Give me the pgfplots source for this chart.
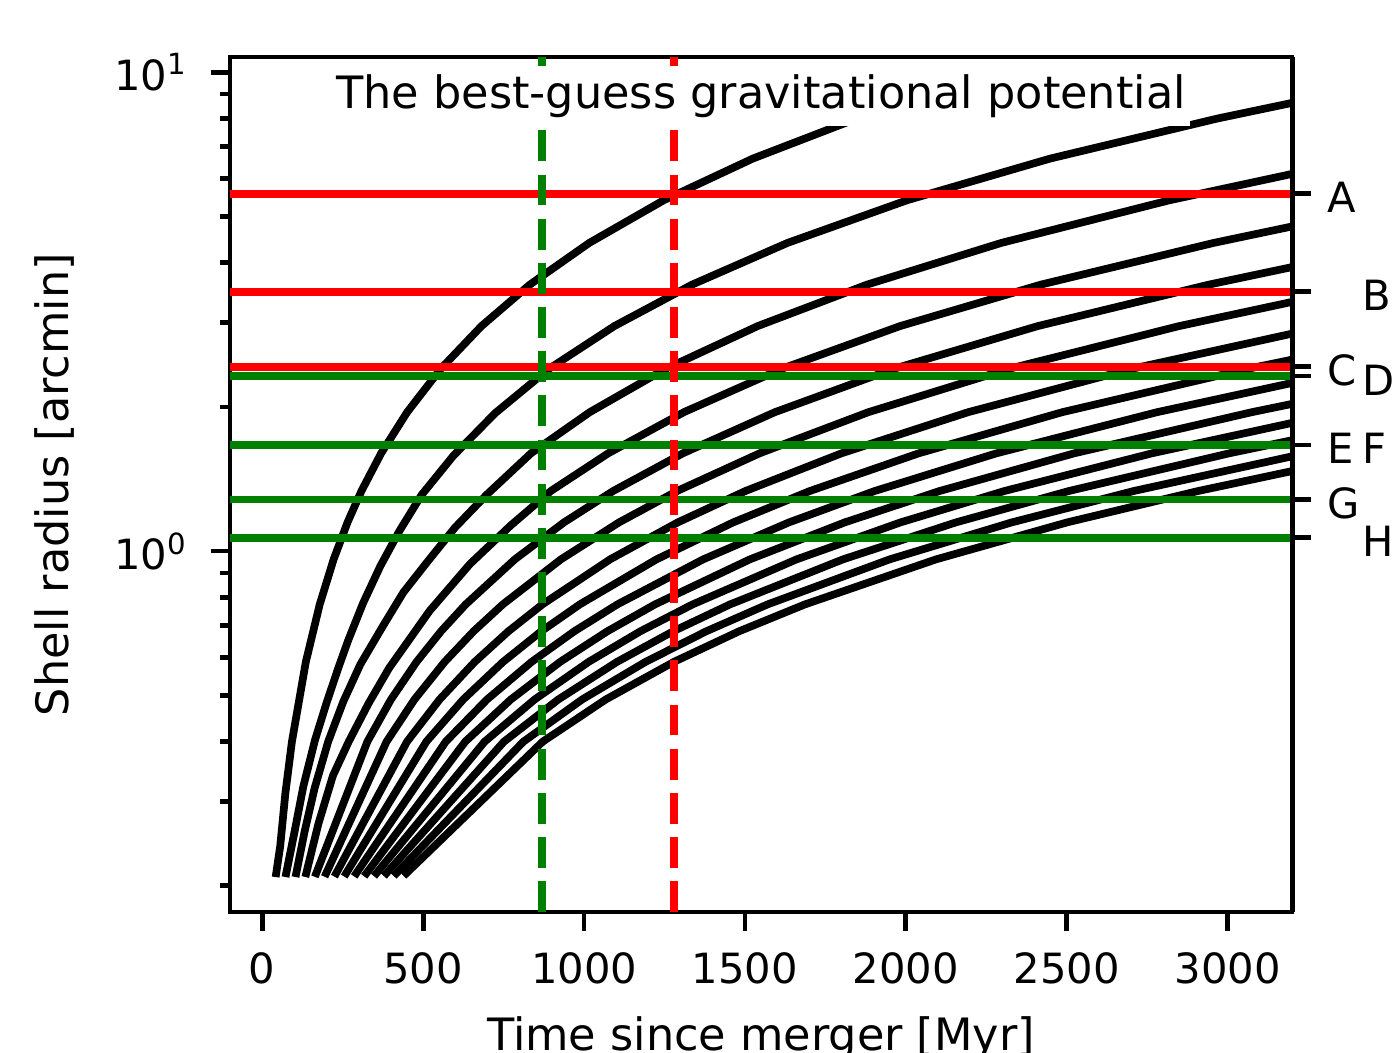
\documentclass[border=0pt]{standalone}
\usepackage{fontspec}
\setmainfont{DejaVu Sans}
\usepackage{pgfplots}
\pgfplotsset{compat=1.18}
\definecolor{mplgreen}{RGB}{0,128,0}
\definecolor{mplred}{RGB}{255,0,0}

\tikzset{
  shellcurve/.style={black, line width=1.85pt, line join=round, line cap=rect},
  hline/.style={line width=1.85pt},
  vline/.style={line width=1.85pt, dash pattern=on 7.4pt off 3.2pt},
}

\begin{document}
\begin{tikzpicture}
\begin{axis}[name=main,
  scale only axis, width=254.9pt, height=205.2pt,
  xmin=-100, xmax=3200, ymode=log, ymin=0.1763, ymax=10.75,
  axis line style={line width=1.15pt},
  tick align=outside, xtick pos=left, ytick pos=left,
  xtick={0,500,1000,1500,2000,2500,3000},
  xticklabels={0,500,1000,1500,2000,2500,3000},
  ytick={1,10}, yticklabels={10\textsuperscript{0},10\textsuperscript{1}},
  minor ytick={0.2,0.3,0.4,0.5,0.6,0.7,0.8,0.9,2,3,4,5,6,7,8,9},
  major tick length=4.6pt, minor tick length=2.4pt,
  every tick/.append style={black, line width=1.15pt},
  tick label style={font=\fontsize{10}{12}\selectfont},
  xticklabel style={yshift=-1.7pt},
  yticklabel style={xshift=-2pt},
  xlabel={Time since merger [Myr]}, ylabel={Shell radius [arcmin]},
  label style={font=\fontsize{10.7}{12.8}\selectfont},
  xlabel style={at={(axis description cs:0.5,0)}, anchor=base, yshift=-33.2pt},
  ylabel style={at={(axis description cs:-0.165,0.5)}, anchor=center},
]
% shells, oldest first
\addplot[shellcurve, mark=none] coordinates {(43.6,0.2125) (56,0.242) (72,0.312) (92.4,0.40) (135.6,0.587) (178.8,0.774) (222,0.961) (265.2,1.148) (308.4,1.335) (369.6,1.6) (450.5,1.95) (554.4,2.4) (681.5,2.95) (831.6,3.6) (1016.4,4.4) (1247.4,5.4) (1524.6,6.6) (1848,8.0) (2060,8.92)};
\addplot[shellcurve, mark=none] coordinates {(74.7,0.2125) (101.8,0.262) (127.6,0.322) (164,0.403) (200,0.482) (236.5,0.57) (267.6,0.652) (314,0.78) (367,0.93) (425.9,1.10) (495.3,1.31) (593.6,1.58) (723.5,1.94) (890.4,2.4) (1094.5,2.95) (1335.6,3.6) (1632.4,4.4) (2003.4,5.4) (2448.6,6.6) (2968,8.0) (3200,8.625)};
\addplot[shellcurve, mark=none] coordinates {(105.8,0.2125) (132,0.26) (163,0.32) (205,0.40) (252,0.485) (305,0.58) (376.6,0.70) (438.8,0.82) (513.5,0.95) (599.3,1.12) (696.9,1.31) (835.2,1.6) (1017.9,1.95) (1252.8,2.4) (1539.9,2.95) (1879.2,3.6) (2296.8,4.4) (2818.8,5.4) (3200,6.13)};
\addplot[shellcurve, mark=none] coordinates {(136.9,0.2125) (175,0.27) (220,0.34) (268.8,0.40) (330,0.48) (394.5,0.57) (520.1,0.75) (645.8,0.94) (771.5,1.13) (897.1,1.335) (1075.2,1.6) (1310.4,1.95) (1612.8,2.4) (1982.4,2.95) (2419.2,3.6) (2956.8,4.4) (3200,4.762)};
\addplot[shellcurve, mark=none] coordinates {(168,0.2125) (326.8,0.40) (400.3,0.49) (479.6,0.587) (555.6,0.68) (632.4,0.774) (785.1,0.961) (937.9,1.148) (1090.7,1.335) (1307.2,1.6) (1593.2,1.95) (1960.8,2.4) (2410.2,2.95) (2941.2,3.6) (3200,3.917)};
\addplot[shellcurve, mark=none] coordinates {(199,0.2125) (386.4,0.40) (473.3,0.49) (567,0.587) (656.9,0.68) (747.7,0.774) (928.3,0.961) (1109,1.148) (1289.6,1.335) (1545.6,1.6) (1883.7,1.95) (2318.4,2.4) (2849.7,2.95) (3200,3.313)};
\addplot[shellcurve, mark=none] coordinates {(230,0.2125) (450,0.40) (551.3,0.49) (660.4,0.587) (765,0.68) (870.8,0.774) (1081.1,0.961) (1291.5,1.148) (1501.9,1.335) (1800,1.6) (2193.8,1.95) (2700,2.4) (3200,2.844)};
\addplot[shellcurve, mark=none] coordinates {(261,0.2125) (510,0.40) (624.8,0.49) (748.4,0.587) (867,0.68) (986.9,0.774) (1225.3,0.961) (1463.7,1.148) (1702.1,1.335) (2040,1.6) (2486.3,1.95) (3060,2.4) (3200,2.51)};
\addplot[shellcurve, mark=none] coordinates {(292.5,0.2125) (570.4,0.40) (698.7,0.49) (837.1,0.587) (969.7,0.68) (1103.7,0.774) (1370.4,0.961) (1637,1.148) (1903.7,1.335) (2281.6,1.6) (2780.7,1.95) (3200,2.244)};
\addplot[shellcurve, mark=none] coordinates {(324,0.2125) (630.8,0.40) (772.7,0.49) (925.7,0.587) (1072.4,0.68) (1220.6,0.774) (1515.5,0.961) (1810.4,1.148) (2105.3,1.335) (2523.2,1.6) (3075.2,1.95) (3200,2.029)};
\addplot[shellcurve, mark=none] coordinates {(355,0.2125) (691.2,0.40) (846.7,0.49) (1014.3,0.587) (1175,0.68) (1337.5,0.774) (1660.6,0.961) (1983.7,1.148) (2306.9,1.335) (2764.8,1.6) (3200,1.852)};
\addplot[shellcurve, mark=none] coordinates {(386,0.2125) (751.2,0.40) (920.2,0.49) (1102.4,0.587) (1277,0.68) (1453.6,0.774) (1804.8,0.961) (2155.9,1.148) (2507.1,1.335) (3004.8,1.6) (3200,1.704)};
\addplot[shellcurve, mark=none] coordinates {(417,0.2125) (811.6,0.40) (994.2,0.49) (1191,0.587) (1379.7,0.68) (1570.4,0.774) (1949.9,0.961) (2329.3,1.148) (2708.7,1.335) (3200,1.577)};
\addplot[shellcurve, mark=none] coordinates {(448,0.2125) (871.6,0.40) (1067.7,0.49) (1279.1,0.587) (1481.7,0.68) (1686.5,0.774) (2094,0.961) (2501.5,1.148) (2908.9,1.335) (3200,1.469)};
% observed shell radii
\addplot[hline, mplred, mark=none] coordinates {(-100,5.57) (3200,5.57)};
\addplot[hline, mplred, mark=none] coordinates {(-100,3.478) (3200,3.478)};
\addplot[hline, mplred, mark=none] coordinates {(-100,2.426) (3200,2.426)};
\addplot[hline, mplgreen, mark=none] coordinates {(-100,2.319) (3200,2.319)};
\addplot[hline, mplgreen, mark=none] coordinates {(-100,1.665) (3200,1.665)};
\addplot[hline, mplgreen, mark=none] coordinates {(-100,1.282) (3200,1.282)};
\addplot[hline, mplgreen, mark=none] coordinates {(-100,1.066) (3200,1.066)};
% times
\addplot[vline, mplgreen, mark=none] coordinates {(870,0.1763) (870,10.75)};
\addplot[vline, mplred, mark=none] coordinates {(1280,0.1763) (1280,10.75)};
\node[fill=white, anchor=north, inner ysep=2pt, inner xsep=1pt, yshift=-1.9pt,
  font=\fontsize{10.7}{12.8}\selectfont] at (rel axis cs:0.5,1)
  {The best-guess gravitational potential};
\end{axis}
\begin{axis}[
  scale only axis, width=254.9pt, height=205.2pt,
  xmin=-100, xmax=3200, ymode=log, ymin=0.1763, ymax=10.75,
  hide x axis, axis y line*=right,
  y axis line style={-, line width=1.15pt},
  tick align=outside,
  ytick={5.57,3.478,2.426,2.319,1.665,1.665,1.282,1.066},
  yticklabels={A,\hspace{8.4pt}B,C,\hspace{8.4pt}D,E,\hspace{8.4pt}F,G,\hspace{8.4pt}H},
  yminorticks=false,
  major tick length=4.6pt,
  every tick/.append style={black, line width=1.15pt},
  yticklabel style={font=\fontsize{10}{12}\selectfont, anchor=west, yshift=-0.9pt, xshift=0.4pt},
]
\end{axis}
\pgfresetboundingbox
\path[use as bounding box] ([xshift=-55.2pt,yshift=-33.6pt]main.south west) rectangle ([xshift=25.9pt,yshift=13.7pt]main.north east);
\end{tikzpicture}
\end{document}
